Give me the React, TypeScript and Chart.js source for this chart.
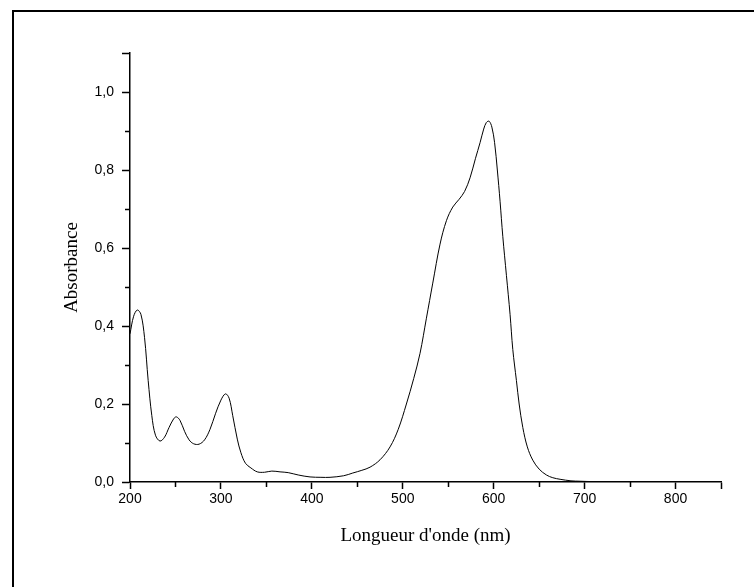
import React, { useEffect, useRef } from "react";
import { Chart, registerables } from "chart.js";

Chart.register(...registerables);

const wavelengths = [
  200, 204, 208, 212, 216, 220, 224, 228, 233, 238, 243, 248, 251, 255, 260, 265, 270, 276, 282, 288,
  294, 300, 305, 309, 313, 318, 322, 327, 333, 340, 348, 356, 365, 374, 385, 398, 410, 420, 435, 445,
  455, 464, 475, 486, 495, 504, 512, 519, 526, 533, 541, 548, 555, 562, 568, 574, 580, 585, 589, 592,
  595, 598, 601, 604, 607, 610, 614, 618, 621, 625, 628, 632, 637, 643, 650, 658, 665, 673, 685, 695,
  710, 750, 800, 850,
];
const absorbance = [
  0.38, 0.425, 0.441, 0.43, 0.37, 0.26, 0.17, 0.12, 0.105, 0.115, 0.14, 0.162, 0.167, 0.158, 0.13, 0.108, 0.098, 0.097, 0.108, 0.135,
  0.175, 0.21, 0.226, 0.215, 0.17, 0.11, 0.075, 0.048, 0.036, 0.026, 0.025, 0.028, 0.026, 0.024, 0.018, 0.013, 0.012, 0.012, 0.016, 0.023,
  0.03, 0.038, 0.057, 0.09, 0.135, 0.2, 0.265, 0.33, 0.42, 0.51, 0.61, 0.67, 0.705, 0.725, 0.745, 0.78, 0.83, 0.87, 0.905, 0.922,
  0.925, 0.91, 0.87, 0.8, 0.72, 0.63, 0.53, 0.43, 0.34, 0.26, 0.2, 0.14, 0.09, 0.056, 0.033, 0.018, 0.011, 0.007, 0.003, 0.002,
  0.001, 0, 0, 0,
];
const xTickValues = [200, 300, 400, 500, 600, 700, 800];
const xMinorTicks = [250, 350, 450, 550, 650, 750];
const yTickValues = [0, 0.2, 0.4, 0.6, 0.8, 1.0];
const yMinorTicks = [0.1, 0.3, 0.5, 0.7, 0.9];
const X_MIN = 200;
const X_MAX = 850;
const Y_MIN = 0;
const Y_MAX = 1.1;

const fmtY = (v: number) => v.toFixed(1).replace(".", ",");

export default function App() {
  const ref = useRef<HTMLCanvasElement | null>(null);

  useEffect(() => {
    document.body.style.margin = "0";
    const canvas = ref.current;
    if (!canvas) return;

    const framePlugin = {
      id: "frameAndMinor",
      beforeDraw(chart: any) {
        const ctx = chart.ctx;
        ctx.save();
        ctx.strokeStyle = "#000";
        ctx.lineWidth = 2;
        ctx.beginPath();
        ctx.moveTo(13, 587);
        ctx.lineTo(13, 11);
        ctx.lineTo(754, 11);
        ctx.stroke();
        ctx.restore();
      },
      afterDraw(chart: any) {
        const ctx = chart.ctx;
        const xs = chart.scales.x;
        const ys = chart.scales.y;
        const area = chart.chartArea;
        ctx.save();
        ctx.strokeStyle = "#000";
        ctx.lineWidth = 1.5;
        ctx.beginPath();
        for (const v of xMinorTicks) {
          const px = Math.round(xs.getPixelForValue(v)) + 0.5;
          ctx.moveTo(px, area.bottom);
          ctx.lineTo(px, area.bottom + 5);
        }
        for (const v of yMinorTicks) {
          const py = Math.round(ys.getPixelForValue(v)) + 0.5;
          ctx.moveTo(area.left, py);
          ctx.lineTo(area.left - 5, py);
        }
        ctx.stroke();
        ctx.restore();
      },
    };

    const chart = new Chart(canvas, {
      type: "line",
      data: {
        datasets: [
          {
            data: wavelengths.map((w, i) => ({ x: w, y: absorbance[i] })),
            borderColor: "#000",
            borderWidth: 1,
            pointRadius: 0,
            fill: false,
            tension: 0.35,
          },
        ],
      },
      options: {
        responsive: false,
        animation: false,
        layout: { padding: { left: 0, top: 53, right: 33, bottom: 0 } },
        plugins: {
          legend: { display: false },
          tooltip: { enabled: false },
        },
        scales: {
          x: {
            type: "linear",
            min: X_MIN,
            max: X_MAX,
            afterBuildTicks: (scale: any) => {
              scale.ticks = [...xTickValues, X_MAX].map((v) => ({ value: v }));
            },
            afterFit: (scale: any) => {
              scale.height = 105;
            },
            grid: {
              drawOnChartArea: false,
              drawTicks: true,
              tickLength: 7,
              tickColor: "#000",
              tickWidth: 1.5,
            },
            border: { display: true, color: "#000", width: 1.5 },
            ticks: {
              padding: 2,
              color: "#000",
              font: { family: "'Liberation Sans', Arial, sans-serif", size: 14 },
              maxRotation: 0,
              autoSkip: false,
              callback: (v: any) => (xTickValues.includes(Number(v)) ? String(v) : ""),
            },
            title: {
              display: true,
              text: "Longueur d'onde (nm)",
              color: "#000",
              font: { family: "'Liberation Serif', 'Times New Roman', serif", size: 19 },
              padding: { top: 0, bottom: 40 },
            },
          },
          y: {
            type: "linear",
            min: Y_MIN,
            max: Y_MAX,
            afterBuildTicks: (scale: any) => {
              scale.ticks = [...yTickValues, Y_MAX].map((v) => ({ value: v }));
            },
            afterFit: (scale: any) => {
              scale.width = 130;
            },
            grid: {
              drawOnChartArea: false,
              drawTicks: true,
              tickLength: 8,
              tickColor: "#000",
              tickWidth: 1.5,
            },
            border: { display: true, color: "#000", width: 1.5 },
            ticks: {
              padding: 8,
              color: "#000",
              font: { family: "'Liberation Sans', Arial, sans-serif", size: 14 },
              autoSkip: false,
              callback: (v: any) => {
                const n = Number(v);
                return yTickValues.some((t) => Math.abs(t - n) < 1e-9) ? fmtY(n) : "";
              },
            },
            title: {
              display: true,
              text: "Absorbance",
              color: "#000",
              font: { family: "'Liberation Serif', 'Times New Roman', serif", size: 19 },
              padding: { top: 61, bottom: 0 },
            },
          },
        },
      },
      plugins: [framePlugin],
    } as any);

    return () => chart.destroy();
  }, []);

  return (
    <div style={{ width: 754, height: 587, position: "relative" }}>
      <canvas ref={ref} width={754} height={587} style={{ display: "block" }} />
    </div>
  );
}
